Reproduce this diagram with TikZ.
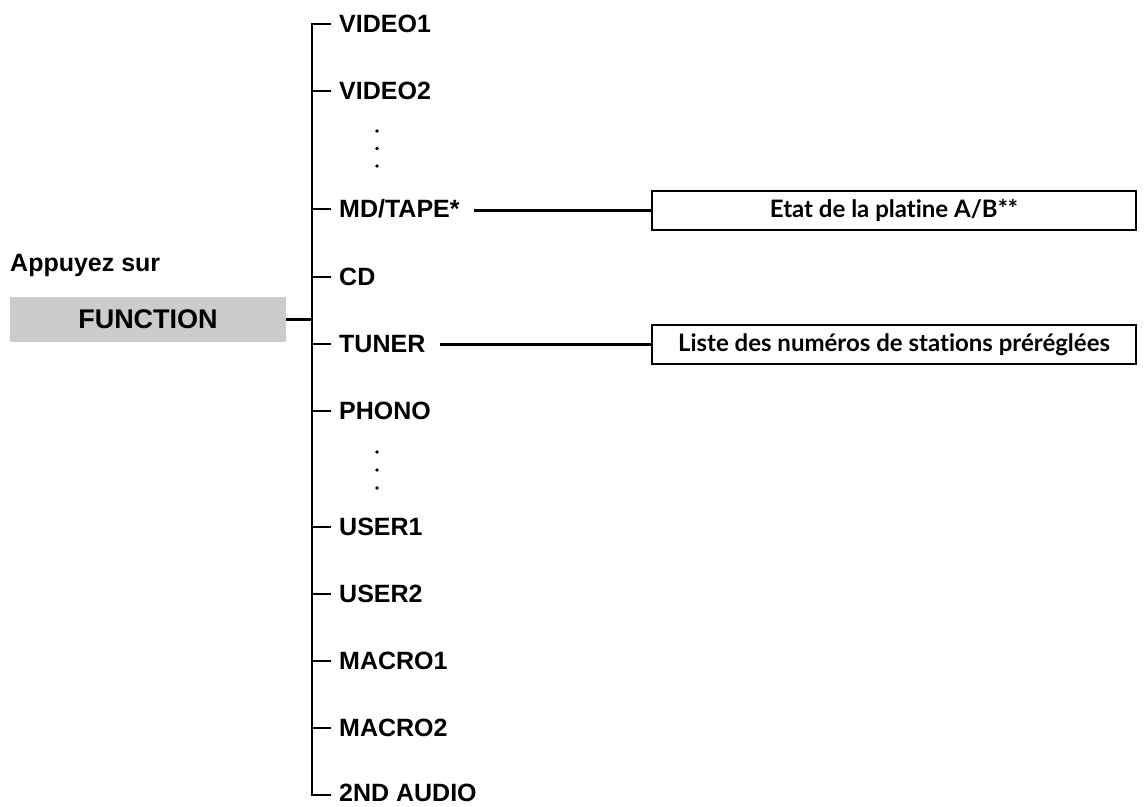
\documentclass[tikz,border=0pt]{standalone}
\usepackage{fontspec}
\setmainfont{Liberation Sans}
\newfontfamily\boxfont[Ligatures={NoCommon}]{Lato}
\begin{document}
\begin{tikzpicture}[x=1pt,y=-1pt,
  item/.style={anchor=base west,inner sep=0pt,font=\fontsize{25}{25}\selectfont\bfseries},
  tree/.style={line width=2.8pt,line join=miter},
  conn/.style={line width=2.2pt},
  infobox/.style={draw,line width=2.8pt,minimum width=484pt,minimum height=39pt,inner sep=0pt,
    font=\boxfont\fontsize{24}{24}\selectfont\bfseries},
  dot/.style={circle,fill,inner sep=0pt,minimum size=3.8pt}]
\useasboundingbox (0,0) rectangle (1146,806);
% labels
\node[anchor=base west,inner sep=0pt,font=\fontsize{25}{25}\selectfont\bfseries] (press) at (10,271) {Appuyez sur};
\node[fill=black!20,minimum width=276pt,minimum height=45pt,inner sep=0pt,
  font=\fontsize{27}{27}\selectfont\bfseries] (func) at (148,319.5) {FUNCTION};
% tree coordinates
\coordinate (top) at (312,24);
\coordinate (bot) at (312,795);
\coordinate (fj) at (312,319);
% items
\foreach \n/\t/\y in {v1/VIDEO1/24, v2/VIDEO2/91, md/MD\slash TAPE*/209, cd/CD/277, tu/TUNER/344,
  ph/PHONO/411, u1/USER1/527, u2/USER2/594, m1/MACRO1/661, m2/MACRO2/728, au/2ND AUDIO/793}{
  \node[item] (\n) at (339,\y+8.5) {\t};
  \coordinate (b\n) at (312,\y);
}
\draw[tree] ([xshift=19pt]top) -- (top) -- (bot) -- ([xshift=19pt]bot);
\foreach \n/\y in {v2/91, md/209, cd/277, tu/344, ph/411, u1/527, u2/594, m1/661, m2/728}{
  \draw[tree] (b\n) -- ++(19,0);
}
\draw[tree] (func.east) -- (func.east -| fj);
% dots
\foreach \y [count=\i] in {131,148.5,166,452,470,488}{
  \node[dot] (d\i) at (377,\y) {};
}
% boxes
\node[infobox] (box1) at (894,210.5) {Etat de la platine A/B**};
\node[infobox] (box2) at (894,344.5) {Liste des numéros de stations préréglées};
\draw[conn] ([xshift=14pt]md.east |- box1.west) -- (box1.west);
\draw[conn] ([xshift=14pt]tu.east |- box2.west) -- (box2.west);
\end{tikzpicture}
\end{document}
